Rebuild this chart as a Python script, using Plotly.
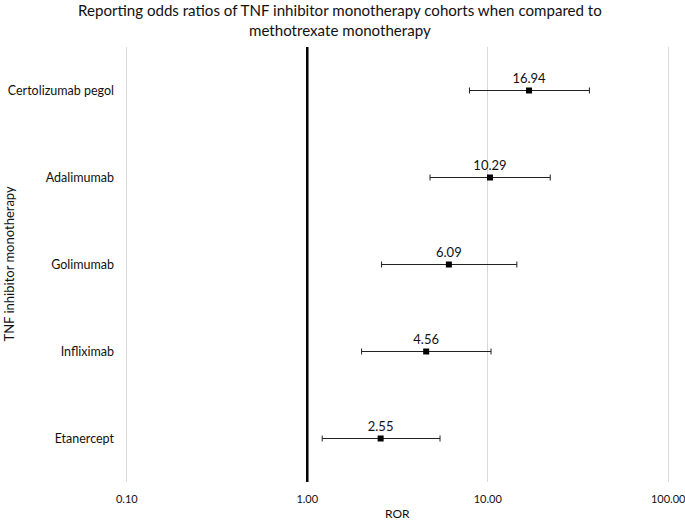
import plotly.graph_objects as go

categories = ["Etanercept", "Infliximab", "Golimumab", "Adalimumab", "Certolizumab pegol"]
ror = [2.55, 4.56, 6.09, 10.29, 16.94]
lower = [1.21, 2.00, 2.58, 4.79, 7.92]
upper = [5.44, 10.43, 14.5, 22.2, 36.6]
tick_vals = [0.1, 1, 10, 100]
tick_text = ["0.10", "1.00", "10.00", "100.00"]

FONT = "Lato, 'Open Sans', sans-serif"
TXT = "#111111"

fig = go.Figure()
fig.add_trace(go.Scatter(
    x=ror, y=categories, mode="markers+text",
    marker=dict(symbol="square", size=6, color="black"),
    text=[f"{v:.2f}" for v in ror], textposition="top center",
    textfont=dict(family=FONT, size=13, color=TXT),
    error_x=dict(type="data", symmetric=False,
                 array=[u - r for u, r in zip(upper, ror)],
                 arrayminus=[r - l for r, l in zip(ror, lower)],
                 color="#222222", thickness=1, width=3),
    showlegend=False, cliponaxis=False,
))

fig.add_shape(type="line", xref="x", yref="paper", x0=1, x1=1, y0=0, y1=1,
              line=dict(color="black", width=2.5))

fig.add_annotation(
    text="Reporting odds ratios of TNF inhibitor monotherapy cohorts when compared to<br>methotrexate monotherapy",
    xref="paper", yref="paper", x=(340 - 125) / 545, y=1, yshift=48, xanchor="center", yanchor="top",
    showarrow=False, font=dict(family=FONT, size=15.1, color=TXT), align="center")
fig.add_annotation(
    text="TNF inhibitor monotherapy", textangle=-90,
    xref="paper", yref="paper", x=0, xshift=-117, y=0.5, xanchor="center", yanchor="middle",
    showarrow=False, font=dict(family=FONT, size=13, color=TXT))
fig.add_annotation(
    text="ROR", xref="paper", yref="paper", x=0.5, y=0, yshift=-22,
    xanchor="center", yanchor="top",
    showarrow=False, font=dict(family=FONT, size=12, color=TXT))

fig.update_layout(
    width=685, height=521,
    margin=dict(l=125, r=15, t=47, b=39),
    paper_bgcolor="white", plot_bgcolor="white",
    font=dict(family=FONT, color=TXT, size=12),
    xaxis=dict(type="log", range=[-1.01, 2.01], tickvals=tick_vals, ticktext=tick_text,
               showgrid=True, gridcolor="#d9d9d9", gridwidth=1, zeroline=False,
               showline=False, ticks="", tickfont=dict(size=11), automargin=False,
               ticklabelstandoff=9, ticklabeloverflow="allow"),
    yaxis=dict(type="category", categoryorder="array", categoryarray=categories,
               range=[-0.5, 4.5], showgrid=False, zeroline=False, showline=False,
               ticks="", ticklabelstandoff=10, tickfont=dict(size=12.5), automargin=False),
)

fig.write_html("out.html", config={"displayModeBar": False},
               post_script="document.body.style.margin='0';")
